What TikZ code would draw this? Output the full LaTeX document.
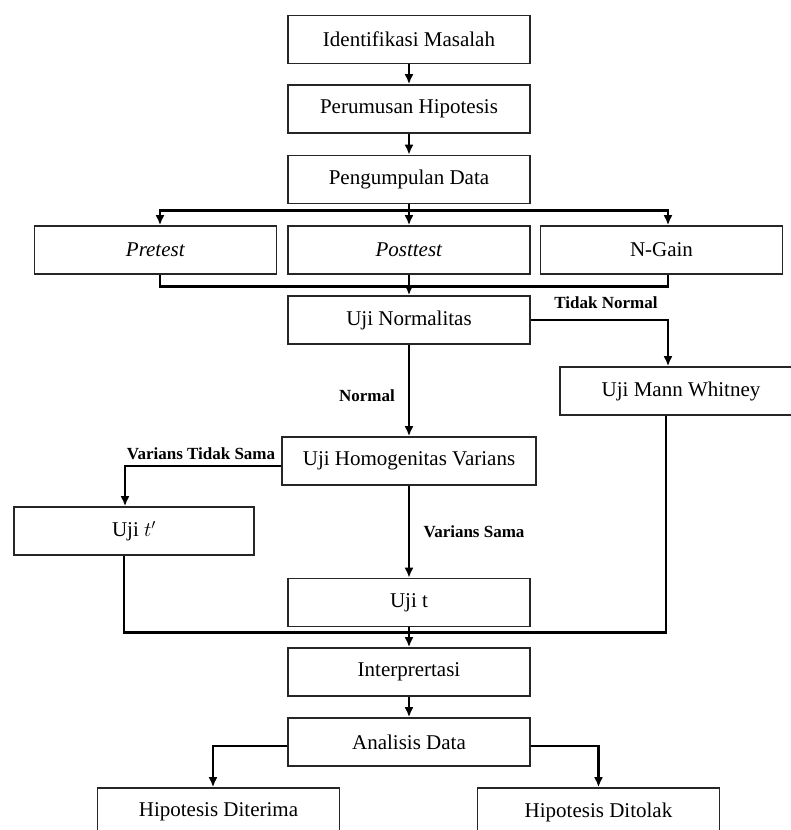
\documentclass[tikz,border=0pt]{standalone}
\usepackage{fontspec}
\setmainfont{Liberation Serif}
\usetikzlibrary{arrows.meta,calc}
\begin{document}
\begin{tikzpicture}[x=1pt,y=-1pt,
  box/.style={draw=black!85,line width=1.6pt,minimum width=242pt,minimum height=48pt,inner sep=0pt,font=\fontsize{21}{25}\selectfont},
  conn/.style={line width=2.8pt,black},
  arr/.style={conn,-{Latex[length=10pt,width=9pt]}},
  lab/.style={font=\fontsize{17}{20}\selectfont\bfseries,inner sep=0pt}]
\useasboundingbox (0,0) rectangle (791,830);
\node[box] (idm) at (409,39.5) {Identifikasi Masalah};
\node[box] (per) at (409,109) {Perumusan Hipotesis};
\node[box] (pen) at (409,179.5) {Pengumpulan Data};
\node[box] (pre) at (155.5,250) {\textit{Pretest}};
\node[box] (post) at (409,250) {\textit{Posttest}};
\node[box] (ng) at (661.5,250) {N-Gain};
\node[box] (un) at (409,320) {Uji Normalitas};
\node[box] (mw) at (681,391) {Uji Mann Whitney};
\node[box,minimum width=254pt] (hom) at (409,461) {Uji Homogenitas Varians};
\node[box,minimum width=240pt] (ut2) at (134,531) {Uji $t'$};
\node[box] (ut) at (409,602.5) {Uji t};
\node[box] (int) at (409,672) {Interprertasi};
\node[box] (ana) at (409,742) {Analisis Data};
\node[box] (hd) at (218.5,812) {Hipotesis Diterima};
\node[box] (hr) at (598.5,812) {Hipotesis Ditolak};

\node[lab] (ltn) at (606,303) {Tidak Normal};
\node[lab] (ln) at (367,396) {Normal};
\node[lab] (lvts) at (201,454) {Varians Tidak Sama};
\node[lab] (lvs) at (474,532) {Varians Sama};

\draw[arr] (idm.south) -- (per.north);
\draw[arr] (per.south) -- (pen.north);
\coordinate (br) at ($(pen.south)+(0,6)$);
\draw[arr] (pen.south) -- (post.north);
\draw[arr] (br) -| ($(pre.north)+(4.5,0)$);
\draw[arr] (br) -| ($(ng.north)+(6.5,0)$);
\coordinate (mg) at ($(post.south)+(0,12)$);
\draw[conn] ($(pre.south)+(4.5,0)$) |- (mg) -| ($(ng.south)+(6.5,0)$);
\draw[arr] (post.south) -- (un.north);
\draw[arr] (un.east) -| ($(mw.north)+(-13,0)$);
\draw[arr] (un.south) -- (hom.north);
\draw[arr] ($(hom.west)+(0,5)$) -| ($(ut2.north)+(-9,0)$);
\draw[arr] (hom.south) -- (ut.north);
\coordinate (mg2) at ($(ut.south)+(0,5)$);
\draw[conn] ($(ut2.south)+(-10,0)$) |- (mg2) -| ($(mw.south)+(-15,0)$);
\draw[arr] (ut.south) -- (int.north);
\draw[arr] (int.south) -- (ana.north);
\draw[arr] ($(ana.west)+(0,4)$) -| ($(hd.north)+(-5.5,0)$);
\draw[arr] ($(ana.east)+(0,4)$) -| (hr.north);
\end{tikzpicture}
\end{document}
